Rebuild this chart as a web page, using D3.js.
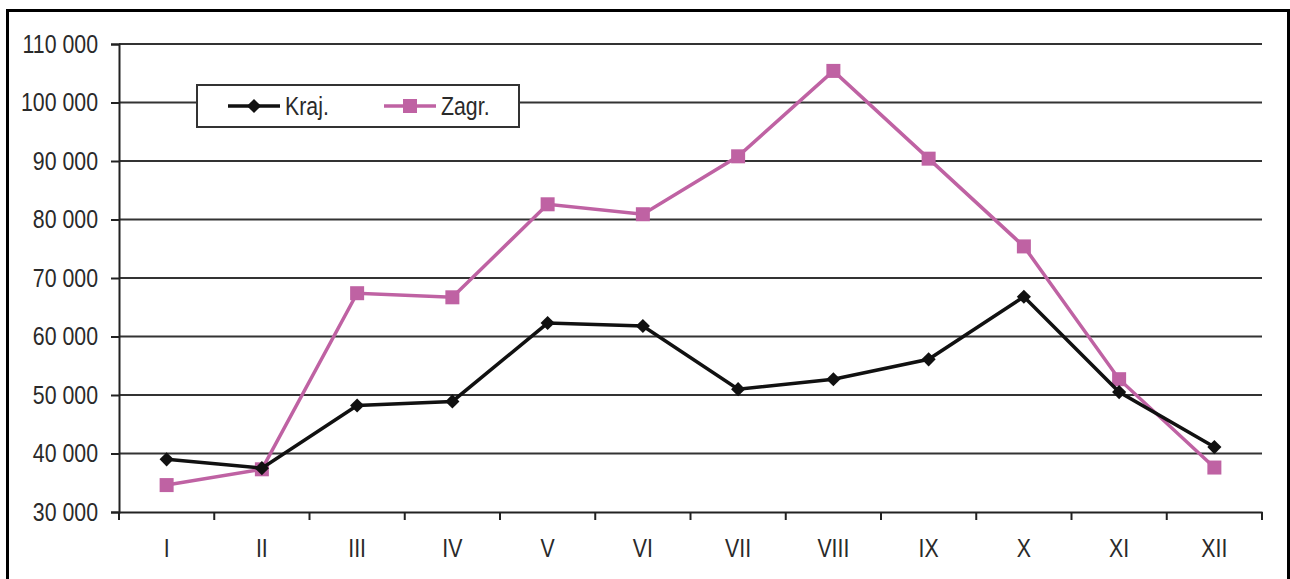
<!DOCTYPE html>
<html>
<head>
<meta charset="utf-8">
<script src="https://cdn.jsdelivr.net/npm/d3@7"></script>
<style>
  body { margin: 0; background: #fff; }
  text { font-family: "Liberation Sans", Arial, sans-serif; fill: #2a2a2a; }
</style>
</head>
<body>
<div id="chart-area"></div>
<script>
// months (roman numerals)
var months = ["I","II","III","IV","V","VI","VII","VIII","IX","X","XI","XII"];
// domestic tourists
var kraj = [39000, 37500, 48200, 48900, 62300, 61800, 51000, 52700, 56100, 66800, 50500, 41100];
// foreign tourists
var zagr = [34600, 37300, 67400, 66700, 82600, 80900, 90800, 105400, 90400, 75400, 52700, 37600];
var yTicks = [30000, 40000, 50000, 60000, 70000, 80000, 90000, 100000, 110000];
var seriesNames = ["Kraj.", "Zagr."];

var W = 1290, H = 579;
var margin = { left: 119, right: 28, top: 44, bottom: 67 };
var width = W - margin.left - margin.right,
    height = H - margin.top - margin.bottom;
var narrow = 0.82; // squeeze text horizontally (narrow font look)
var fontSize = "26px";

var svg = d3.select("#chart-area")
    .append("svg")
        .attr("width", W)
        .attr("height", H);

// outer frame
svg.append("rect")
    .attr("x", 7.5)
    .attr("y", 10.5)
    .attr("width", 1281)
    .attr("height", 600)
    .attr("fill", "none")
    .attr("stroke", "#000")
    .attr("stroke-width", 3);

var g = svg.append("g")
    .attr("transform", "translate(" + margin.left + "," + margin.top + ")");

var x = d3.scaleBand()
    .domain(months)
    .range([0, width]);

var y = d3.scaleLinear()
    .domain([30000, 110000])
    .range([height, 0]);

var fmt = function(d){ return d3.format(",")(d).replace(/,/g, " "); };

function squeeze(sel){
    sel.each(function(){
        var t = d3.select(this);
        var tx = +t.attr("x") || 0;
        t.attr("x", 0)
         .attr("transform", "translate(" + tx + ",0) scale(" + narrow + ",1)");
    });
}

// gridlines
g.append("g")
    .selectAll("line")
    .data(yTicks.slice(1))
    .enter().append("line")
        .attr("x1", 0)
        .attr("x2", width)
        .attr("y1", function(d){ return y(d); })
        .attr("y2", function(d){ return y(d); })
        .attr("stroke", "#333")
        .attr("stroke-width", 2);

// Y Axis
var yAxisCall = d3.axisLeft(y)
    .tickValues(yTicks)
    .tickSize(8)
    .tickPadding(13)
    .tickFormat(fmt);
var yAxis = g.append("g")
    .attr("class", "y axis")
    .call(yAxisCall);
yAxis.select(".domain").attr("stroke", "#222").attr("stroke-width", 2);
yAxis.selectAll(".tick line").attr("stroke", "#222").attr("stroke-width", 2);
yAxis.selectAll(".tick text")
    .attr("font-size", fontSize)
    .style("font-family", null)
    .call(squeeze);

// X Axis
var xAxisCall = d3.axisBottom(x)
    .tickSize(0)
    .tickPadding(27);
var xAxis = g.append("g")
    .attr("class", "x axis")
    .attr("transform", "translate(0," + height + ")")
    .call(xAxisCall);
xAxis.select(".domain").attr("stroke", "#222").attr("stroke-width", 2);
xAxis.selectAll(".tick text")
    .attr("font-size", fontSize)
    .style("font-family", null)
    .call(squeeze);
// tick marks between categories
xAxis.selectAll(".sep")
    .data(d3.range(months.length + 1))
    .enter().append("line")
        .attr("class", "sep")
        .attr("x1", function(i){ return i * x.bandwidth(); })
        .attr("x2", function(i){ return i * x.bandwidth(); })
        .attr("y1", 0)
        .attr("y2", 8)
        .attr("stroke", "#222")
        .attr("stroke-width", 2);

var cx = function(d, i){ return x(months[i]) + x.bandwidth() / 2; };
var line = d3.line()
    .x(cx)
    .y(function(d){ return y(d); });

var pink = "#bf62a3";

// Zagr. line + squares
g.append("path")
    .datum(zagr)
    .attr("d", line)
    .attr("fill", "none")
    .attr("stroke", pink)
    .attr("stroke-width", 3.5);
g.selectAll(".sq")
    .data(zagr)
    .enter().append("rect")
        .attr("class", "sq")
        .attr("x", function(d, i){ return cx(d, i) - 7; })
        .attr("y", function(d){ return y(d) - 7; })
        .attr("width", 14)
        .attr("height", 14)
        .attr("fill", pink);

// Kraj. line + diamonds
var diamond = d3.symbol().type(d3.symbolSquare).size(100);
g.append("path")
    .datum(kraj)
    .attr("d", line)
    .attr("fill", "none")
    .attr("stroke", "#111")
    .attr("stroke-width", 3.5);
g.selectAll(".dm")
    .data(kraj)
    .enter().append("path")
        .attr("class", "dm")
        .attr("d", diamond)
        .attr("transform", function(d, i){ return "translate(" + cx(d, i) + "," + y(d) + ") rotate(45)"; })
        .attr("fill", "#111");

// Legend
var legend = svg.append("g")
    .attr("transform", "translate(197,85)");
legend.append("rect")
    .attr("width", 322)
    .attr("height", 42)
    .attr("fill", "#fff")
    .attr("stroke", "#333")
    .attr("stroke-width", 2);

var legendColors = ["#111", pink];
var legendX = [31, 187];
seriesNames.forEach(function(name, i){
    var row = legend.append("g")
        .attr("transform", "translate(" + legendX[i] + ",21)");
    row.append("line")
        .attr("x1", 0)
        .attr("x2", 52)
        .attr("stroke", legendColors[i])
        .attr("stroke-width", 3.5);
    if (i === 0) {
        row.append("path")
            .attr("d", diamond)
            .attr("transform", "translate(26,0) rotate(45)")
            .attr("fill", legendColors[i]);
    } else {
        row.append("rect")
            .attr("x", 19).attr("y", -7)
            .attr("width", 14).attr("height", 14)
            .attr("fill", legendColors[i]);
    }
    row.append("text")
        .attr("transform", "translate(57,9) scale(" + narrow + ",1)")
        .attr("font-size", fontSize)
        .text(name);
});
</script>
</body>
</html>
